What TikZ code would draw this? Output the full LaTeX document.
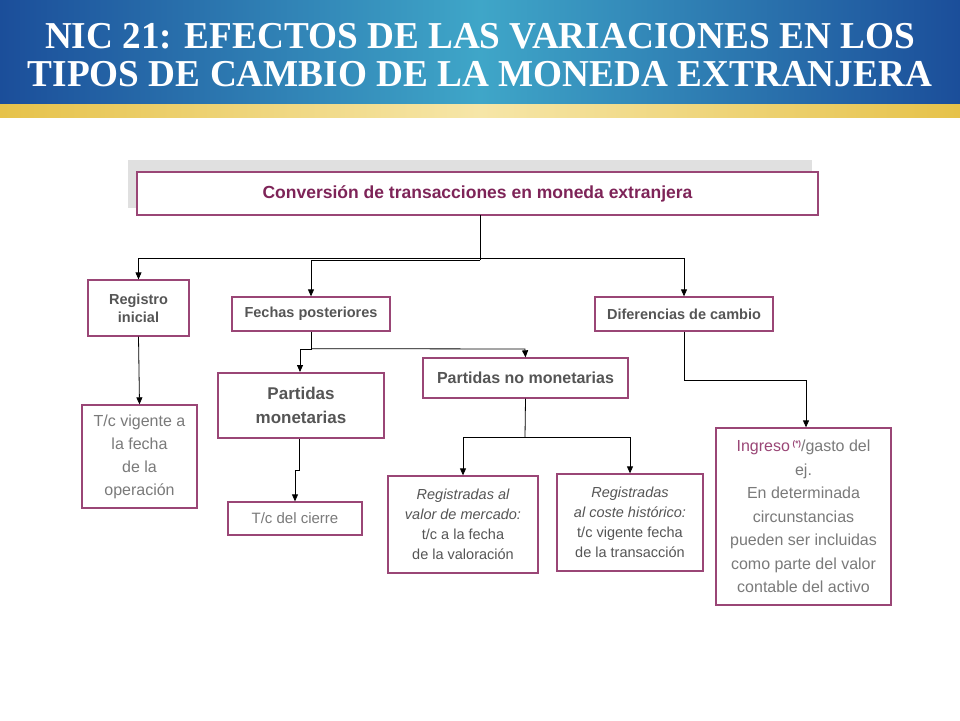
\documentclass[tikz,border=0pt]{standalone}
\usepackage{fontspec}
\setmainfont{Liberation Sans}
\newfontfamily\titlefont{Liberation Serif}
\usetikzlibrary{arrows.meta}
\definecolor{bord}{HTML}{9A4676}
\definecolor{mag}{HTML}{7E2458}
\definecolor{dg}{HTML}{555555}
\definecolor{lg}{HTML}{7A7A7A}
\definecolor{bluea}{HTML}{1B4E9A}
\definecolor{blueb}{HTML}{3FA6C8}
\definecolor{gold}{HTML}{E6C24A}
\definecolor{goldl}{HTML}{F6E6A8}
\begin{document}
\begin{tikzpicture}[x=1pt,y=-1pt,
  bx/.style={draw=bord,line width=1.3pt,align=center,inner sep=0pt},
  lab/.style={font=\bfseries\fontsize{14.5}{18}\selectfont,text=dg},
  bod/.style={font=\fontsize{16}{23}\selectfont,text=lg},
  ita/.style={font=\itshape\fontsize{14.5}{20}\selectfont,text=dg},
  arr/.style={-{Triangle[length=7pt,width=6pt]},line width=0.8pt},
  ln/.style={line width=0.8pt}]
\useasboundingbox (0,0) rectangle (960,720);
\fill[white] (0,0) rectangle (960,720);
\shade[left color=bluea,right color=bluea,middle color=blueb] (0,0) rectangle (960,104);
\shade[left color=gold,right color=gold,middle color=goldl] (0,104) rectangle (960,117);
\node[font=\titlefont\bfseries\fontsize{38}{38}\selectfont,text=white,align=center,xscale=0.98] (title) at (480,55) {NIC 21: EFECTOS DE LAS VARIACIONES EN LOS\\TIPOS DE CAMBIO DE LA MONEDA EXTRANJERA};
% top box
\fill[black!12] (128,160) rectangle (812,208);
\node[bx,fill=white,minimum width=681,minimum height=43,font=\bfseries\fontsize{17.5}{20}\selectfont,text=mag] (top) at (477.5,193.5) {Conversión de transacciones en moneda extranjera};
\node[bx,lab,minimum width=101,minimum height=56] (reg) at (138.5,308) {Registro\\inicial};
\node[bx,lab,minimum width=158,minimum height=34] (fec) at (311,314) {Fechas posteriores};
\node[bx,lab,minimum width=178,minimum height=34] (dif) at (684,314) {Diferencias de cambio};
\node[bx,line width=2pt,font=\bfseries\fontsize{17}{24}\selectfont,text=dg,minimum width=166,minimum height=65] (pm) at (301,405.5) {Partidas\\monetarias};
\node[bx,lab,font=\bfseries\fontsize{16}{18}\selectfont,minimum width=205,minimum height=40] (pnm) at (525.5,378) {Partidas no monetarias};
\node[bx,bod,minimum width=115,minimum height=103] (tcv) at (139.5,456.5) {T/c vigente a\\la fecha\\de la\\operación};
\node[bx,bod,font=\fontsize{15}{17}\selectfont,minimum width=134,minimum height=33] (tcc) at (295,518.5) {T/c del cierre};
\node[bx,ita,minimum width=150,minimum height=97] (rv) at (463,524.5) {Registradas al\\valor de mercado:\\\upshape t/c a la fecha\\\upshape de la valoración};
\node[bx,ita,minimum width=146,minimum height=97] (rc) at (630,522.5) {Registradas\\al coste histórico:\\\upshape t/c vigente fecha\\\upshape de la transacción};
\node[bx,bod,font=\fontsize{16}{23.5}\selectfont,minimum width=175,minimum height=177] (ing) at (803.5,516.5) {\textcolor{bord}{Ingreso\,\raisebox{0.6ex}{\bfseries\footnotesize(*)}}/gasto del\\ej.\\En determinada\\circunstancias\\pueden ser incluidas\\como parte del valor\\contable del activo};
% connectors
\coordinate (j1) at (480,258);
\draw[ln] (480,215) -- (j1);
\draw[arr] (j1) -| (reg.north);
\draw[arr] (480,260) -| (fec.north);
\draw[ln] (480,258) -- (480,260);
\draw[arr] (j1) -| (dif.north);
\draw[arr] (reg.south) -- (tcv.north);
\draw[arr] (fec.south) |- (300,349) -- (pm.north -| 300,0);
\draw[arr] (fec.south) ++(0,17) -- (525,349) -- (pnm.north);
\draw[arr] (pm.south -| 299,0) |- (295,470) -- (tcc.north -| 295,0);
\draw[ln] (pnm.south) -- (525,437);
\draw[arr] (525,437) -| (rv.north);
\draw[arr] (525,437) -| (rc.north);
\draw[arr] (dif.south) |- (806,380) -- (ing.north -| 806,0);
\end{tikzpicture}
\end{document}
